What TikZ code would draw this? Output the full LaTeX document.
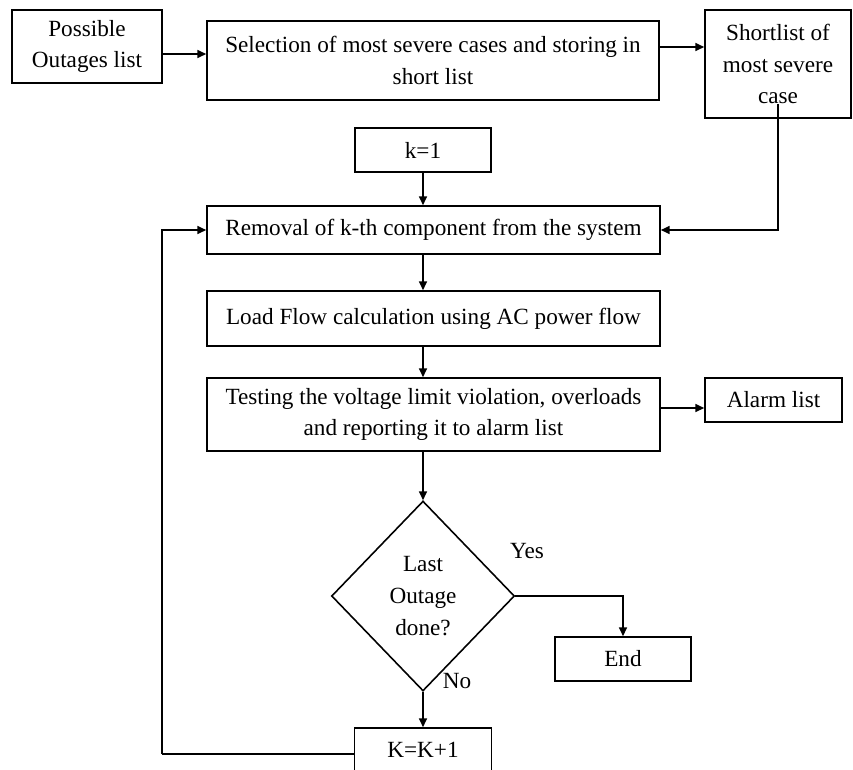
\documentclass[tikz,border=0pt]{standalone}
\usepackage{fontspec}
\setmainfont{Liberation Serif}
\usetikzlibrary{shapes.geometric,arrows.meta}

\begin{document}
\begin{tikzpicture}[
    box/.style={draw, line width=0.9pt, align=center, inner sep=0pt, font=\fontsize{13.2}{18}\selectfont},
    flow/.style={line width=0.9pt, -{Triangle[length=5pt,width=4.5pt]}},
    wire/.style={line width=0.9pt},
    lbl/.style={font=\fontsize{13.2}{15}\selectfont, inner sep=0pt}
]

\useasboundingbox[fill=white] (0,0) rectangle (17.06,-15.38);

% top row
\node[box, minimum width=3.0cm, minimum height=1.46cm] (pol) at (1.74,-0.93) {Possible\\Outages list};
\node[box, minimum width=9.04cm, minimum height=1.58cm] (sel) at (8.66,-1.21) {Selection of most severe cases and storing in\\short list};
\node[box, minimum width=2.92cm, minimum height=2.16cm] (sho) at (15.56,-1.28) {Shortlist of\\most severe\\case};

% main column
\node[box, minimum width=2.72cm, minimum height=0.88cm] (k1) at (8.46,-3.0) {k=1};
\node[box, minimum width=9.06cm, minimum height=0.96cm] (rem) at (8.67,-4.6) {Removal of k-th component from the system};
\node[box, minimum width=9.06cm, minimum height=1.1cm] (lf) at (8.67,-6.37) {Load Flow calculation using AC power flow};
\node[box, minimum width=9.06cm, minimum height=1.46cm] (tst) at (8.67,-8.29) {Testing the voltage limit violation, overloads\\and reporting it to alarm list};
\node[box, minimum width=2.74cm, minimum height=0.88cm] (alm) at (15.47,-8.0) {Alarm list};
\node[box, diamond, aspect=0.96, minimum width=3.66cm, minimum height=3.8cm] (dia) at (8.46,-11.92) {Last\\Outage\\done?};
\node[box, minimum width=2.72cm, minimum height=0.88cm] (end) at (12.46,-13.18) {End};
\node[box, minimum width=2.74cm, minimum height=0.88cm] (kk) at (8.46,-15.0) {K=K+1};

\node[lbl] (yes) at (10.54,-11.02) {Yes};
\node[lbl] (no) at (9.14,-13.62) {No};
\coordinate (lp) at (3.24,-15.08);

% connectors
\draw[flow] ([yshift=-0.15cm]pol.east) -- ([yshift=-0.15cm]pol.east -| sel.west);
\draw[flow] ([yshift=0.27cm]sel.east) -- ([yshift=0.27cm]sel.east -| sho.west);
\draw[flow] ([yshift=0.3cm]sho.south) |- (rem.east);
\draw[flow] (k1.south) -- (k1.south |- rem.north);
\draw[flow] (rem.south -| k1) -- (lf.north -| k1);
\draw[flow] (lf.south -| k1) -- (tst.north -| k1);
\draw[flow] ([yshift=0.13cm]tst.east) -- ([yshift=0.13cm]tst.east -| alm.west);
\draw[flow] (tst.south -| dia) -- (dia.north);
\draw[flow] (dia.east) -| (end.north);
\draw[flow] (dia.south) -- (kk.north);
\draw[wire] (kk.west |- lp) -- (lp);
\draw[flow] (lp) |- (rem.west);

\end{tikzpicture}
\end{document}
